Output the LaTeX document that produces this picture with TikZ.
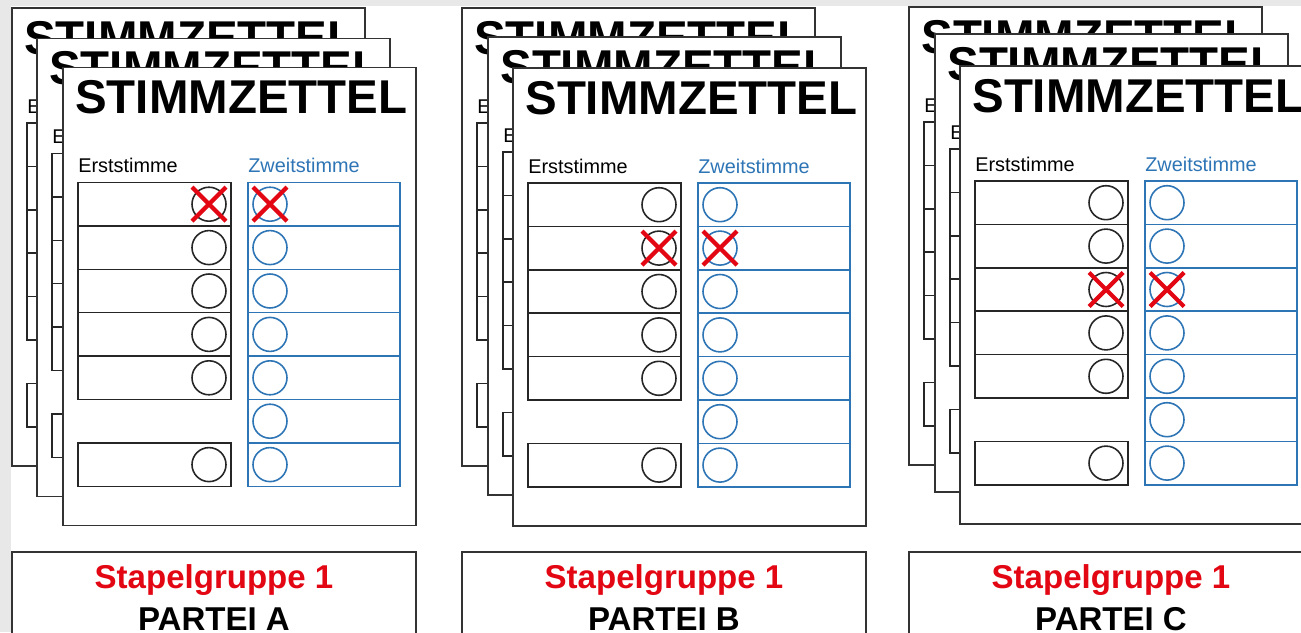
\documentclass[tikz,border=0pt]{standalone}
\usepackage{fontspec}
\setmainfont{Liberation Sans}
\definecolor{zblau}{HTML}{2E75B6}
\definecolor{kreuzrot}{HTML}{E30613}
\definecolor{rand}{HTML}{E8E8E8}

\begin{document}
\begin{tikzpicture}[x=0.02cm, y=-0.02cm,
    blatt/.style={draw=black!80, fill=white, line width=0.9pt},
    erst/.style={draw=black!85, line width=0.9pt},
    zweit/.style={draw=zblau, line width=0.9pt},
    kreuz/.style={draw=kreuzrot, line width=2.4pt},
    titel/.style={inner sep=0, anchor=base west, font=\fontsize{27}{30}\selectfont\bfseries},
    spalte/.style={inner sep=0, anchor=base west, font=\fontsize{11.3}{13}\selectfont},
    gruppe/.style={inner sep=0, anchor=base, font=\fontsize{18.8}{22}\selectfont\bfseries}]
    % Stimmzettel-Stapel
    \def\h{43.4}
    \def\r{17}
    % #1,#2: Ecke oben links, #3: angekreuzte Zeile (-1 = keine), #4: Name
    \def\zettel#1#2#3#4{
        \begin{scope}[shift={(#1,#2)}]
            \draw[blatt] (0,0) rectangle (353,458);
            \node[titel] (#4-titel) at (12,46) {STIMMZETTEL};
            \node[spalte] (#4-erst) at (15,105) {Erststimme};
            \node[spalte, text=zblau] (#4-zweit) at (185,105) {Zweitstimme};
            \foreach \z in {0,...,6} {
                \pgfmathsetmacro{\yo}{115+\h*\z}
                \pgfmathsetmacro{\yu}{\yo+\h}
                \pgfmathsetmacro{\ym}{\yo+\h/2}
                \draw[zweit] (185,\yo) rectangle (337,\yu);
                \draw[zweit] (207,\ym) circle[radius=\r];
                \ifnum\z=5 \else
                    \draw[erst] (15,\yo) rectangle (168,\yu);
                    \draw[erst] (146,\ym) circle[radius=\r];
                \fi
                \ifnum\z=#3
                    \draw[kreuz, shift={(146,\ym)}] (-\r,-\r) -- (\r,\r) (-\r,\r) -- (\r,-\r);
                    \draw[kreuz, shift={(207,\ym)}] (-\r,-\r) -- (\r,\r) (-\r,\r) -- (\r,-\r);
                \fi
            }
        \end{scope}
    }
    % #1: linker Rand, #2: Partei
    \def\stapel#1#2{
        \draw[blatt] (#1,552) rectangle ++(404,120);
        \node[gruppe, text=kreuzrot] (#2-stapel) at ({#1+202},588) {Stapelgruppe 1};
        \node[gruppe] (#2-partei) at ({#1+202},630) {PARTEI #2};
    }

    \useasboundingbox (0,0) rectangle (1301,632);
    \clip (0,0) rectangle (1301,632);
    \fill[rand] (0,0) rectangle (1301,632);
    \fill[white] (11,6) rectangle (1301,632);

    % Partei A
    \zettel{12}{8}{-1}{A1}
    \zettel{37}{38.5}{-1}{A2}
    \zettel{63}{67.5}{0}{A3}
    \stapel{12}{A}

    % Partei B
    \zettel{462}{8}{-1}{B1}
    \zettel{488}{37}{-1}{B2}
    \zettel{513}{68}{1}{B3}
    \stapel{462}{B}

    % Partei C
    \zettel{909}{7}{-1}{C1}
    \zettel{935}{34}{-1}{C2}
    \zettel{960}{66}{2}{C3}
    \stapel{909}{C}
\end{tikzpicture}
\end{document}
